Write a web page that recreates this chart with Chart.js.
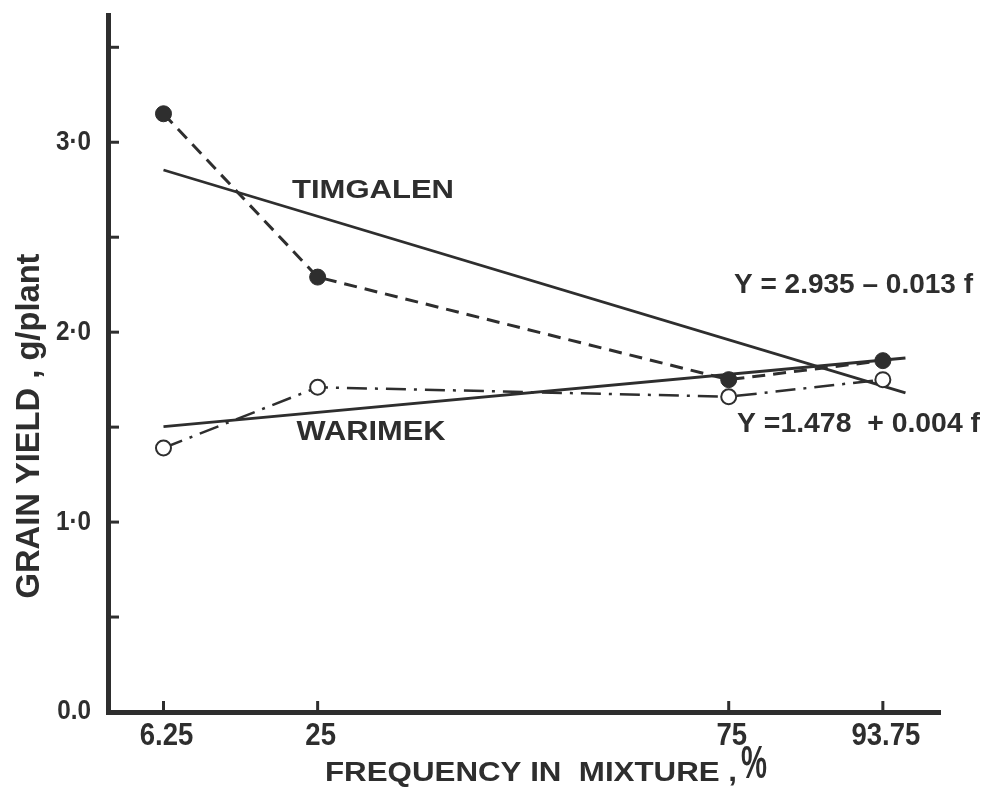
<!DOCTYPE html>
<html>
<head>
<meta charset="utf-8">
<title>Grain yield vs frequency in mixture</title>
<script src="https://cdn.jsdelivr.net/npm/chart.js@4.4.1/dist/chart.umd.min.js"></script>
<style>
  html, body { margin: 0; padding: 0; background: #ffffff; }
  #wrap { width: 989px; height: 790px; }
</style>
</head>
<body>
<div id="wrap"><canvas id="chart" width="989" height="790"></canvas></div>
<script>
// Frequency of each cultivar in the mixture (%)
const frequencies = [6.25, 25, 75, 93.75];
// Observed grain yield, g/plant
const timgalenYield = [3.15, 2.29, 1.75, 1.85];
const warimekYield  = [1.39, 1.71, 1.66, 1.75];
// Fitted regressions Y = a + b f
const timgalenFit = { a: 2.935, b: -0.013 };
const warimekFit  = { a: 1.478, b: 0.004 };
const fitRange = [6.25, 96.5];
// Axis ticks
const xTickValues = [6.25, 25, 75, 93.75];
const xTickLabels = ['6.25', '25', '75', '93.75'];
const yTickValues = [0, 0.5, 1, 1.5, 2, 2.5, 3, 3.5];
const yTickLabels = { 0: '0.0', 1: '1·0', 2: '2·0', 3: '3·0' };

const INK = '#2e2e2e';
const SANS = "'Liberation Sans', Arial, sans-serif";

const toPoints = (xs, ys) => xs.map((x, i) => ({ x, y: ys[i] }));
const fitLine = f => fitRange.map(x => ({ x, y: f.a + f.b * x }));

// Draw text with a horizontal squeeze (fixed factor, or fitted to a width)
function drawText(ctx, text, x, y, font, opts) {
  opts = opts || {};
  ctx.save();
  ctx.font = font;
  const w = ctx.measureText(text).width;
  const s = opts.width ? opts.width / w : (opts.squeeze || 1);
  ctx.translate(x, y);
  ctx.scale(s, 1);
  ctx.textAlign = opts.align || 'center';
  ctx.textBaseline = 'middle';
  ctx.fillText(text, 0, 0);
  ctx.restore();
}

const decorations = {
  id: 'decorations',
  beforeDraw(chart) {
    const ctx = chart.ctx;
    ctx.save();
    ctx.fillStyle = '#ffffff';
    ctx.fillRect(0, 0, chart.width, chart.height);
    ctx.restore();
  },
  afterDraw(chart) {
    const ctx = chart.ctx;
    const xs = chart.scales.x, ys = chart.scales.y;
    const area = chart.chartArea;
    ctx.save();
    ctx.strokeStyle = INK;
    ctx.fillStyle = INK;
    ctx.lineWidth = 3;
    ctx.lineCap = 'butt';

    // inward tick marks and labels on the y axis
    yTickValues.forEach(v => {
      const y = ys.getPixelForValue(v);
      if (v !== 0) {
        ctx.beginPath();
        ctx.moveTo(area.left, y);
        ctx.lineTo(area.left + 11, y);
        ctx.stroke();
      }
      const lab = yTickLabels[v];
      if (lab) drawText(ctx, lab, area.left - 17, y, 'bold 27px ' + SANS, { align: 'right', squeeze: 0.9 });
    });

    // inward tick marks and labels on the x axis
    xTickValues.forEach((v, i) => {
      const x = xs.getPixelForValue(v);
      ctx.beginPath();
      ctx.moveTo(x, area.bottom);
      ctx.lineTo(x, area.bottom - 11);
      ctx.stroke();
      drawText(ctx, xTickLabels[i], x + 3, area.bottom + 24, 'bold 32px ' + SANS, { squeeze: 0.86 });
    });

    // cultivar names
    drawText(ctx, 'TIMGALEN', 373, 191, 'bold 26px ' + SANS, { width: 162 });
    drawText(ctx, 'WARIMEK', 371, 433, 'bold 27px ' + SANS, { width: 149 });

    // regression equations
    drawText(ctx, 'Y = 2.935 \u2013 0.013 f', 734, 285, 'bold 28px ' + SANS, { width: 239, align: 'left' });
    drawText(ctx, 'Y =1.478  + 0.004 f', 737, 424, 'bold 28px ' + SANS, { width: 243, align: 'left' });

    // axis titles
    ctx.save();
    ctx.translate(30, 426);
    ctx.rotate(-Math.PI / 2);
    drawText(ctx, 'GRAIN YIELD , g/plant', 0, 0, 'bold 34px ' + SANS, { width: 345 });
    ctx.restore();

    drawText(ctx, 'FREQUENCY IN  MIXTURE ,', 325, 774, 'bold 27px ' + SANS, { width: 412, align: 'left' });
    drawText(ctx, '%', 741, 765, 'bold 46px ' + SANS, { width: 26, align: 'left' });
    ctx.restore();
  }
};

new Chart(document.getElementById('chart'), {
  type: 'line',
  data: {
    datasets: [
      {
        label: 'Timgalen observed',
        data: toPoints(frequencies, timgalenYield),
        borderColor: INK,
        borderWidth: 3,
        borderDash: [13, 8],
        pointRadius: 8,
        pointBackgroundColor: INK,
        pointBorderColor: INK,
        pointBorderWidth: 1,
        tension: 0
      },
      {
        label: 'Warimek observed',
        data: toPoints(frequencies, warimekYield),
        borderColor: INK,
        borderWidth: 2.5,
        borderDash: [20, 8, 3, 8],
        pointRadius: 7.5,
        pointBackgroundColor: '#ffffff',
        pointBorderColor: INK,
        pointBorderWidth: 2,
        tension: 0
      },
      {
        label: 'Timgalen fit',
        data: fitLine(timgalenFit),
        borderColor: INK,
        borderWidth: 2.8,
        pointRadius: 0
      },
      {
        label: 'Warimek fit',
        data: fitLine(warimekFit),
        borderColor: INK,
        borderWidth: 2.8,
        pointRadius: 0
      }
    ]
  },
  options: {
    responsive: false,
    animation: false,
    events: [],
    layout: { padding: { left: 0, right: 49, top: 15, bottom: 0 } },
    plugins: {
      legend: { display: false },
      tooltip: { enabled: false },
      title: { display: false }
    },
    scales: {
      x: {
        type: 'linear',
        min: -0.5,
        max: 100.7,
        afterBuildTicks(scale) { scale.ticks = xTickValues.map(v => ({ value: v })); },
        afterFit(scale) { scale.height = 78; },
        ticks: { display: false },
        grid: { display: true, drawOnChartArea: false, drawTicks: false },
        border: { display: true, color: INK, width: 5 }
      },
      y: {
        type: 'linear',
        min: 0,
        max: 3.67,
        afterBuildTicks(scale) { scale.ticks = yTickValues.map(v => ({ value: v })); },
        afterFit(scale) { scale.width = 108; },
        ticks: { display: false },
        grid: { display: true, drawOnChartArea: false, drawTicks: false },
        border: { display: true, color: INK, width: 5 }
      }
    }
  },
  plugins: [decorations]
});
</script>
</body>
</html>
